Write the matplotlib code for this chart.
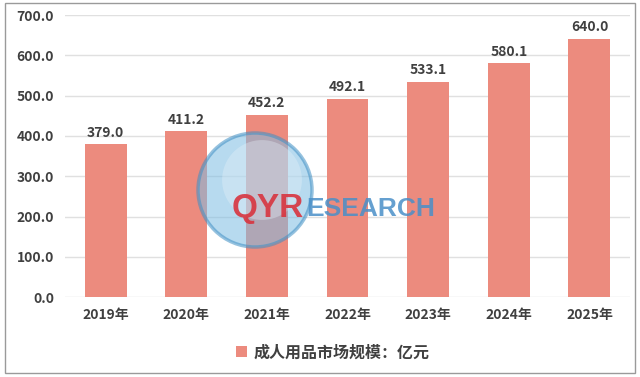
import matplotlib.pyplot as plt
from matplotlib.patches import Ellipse, Rectangle

plt.rcParams['font.family'] = ['Noto Sans CJK SC', 'DejaVu Sans']

years = ["2019年", "2020年", "2021年", "2022年", "2023年", "2024年", "2025年"]
values = [379.0, 411.2, 452.2, 492.1, 533.1, 580.1, 640.0]
series_name = "成人用品市场规模：亿元"
bar_color = "#EC8B7E"

W, H = 640, 377
fig = plt.figure(figsize=(6.4, 3.77), dpi=100)
ax = fig.add_axes([0.102, 0.212, 0.882, 0.748])

x = range(len(years))
bars = ax.bar(x, values, width=0.52, color=bar_color, label=series_name, zorder=2)
for xi, v in zip(x, values):
    ax.text(xi, v + 12, f"{v:.1f}", ha="center", va="bottom",
            fontsize=10, fontweight="bold", color="#404040")

ax.set_xlim(-0.5, len(years) - 0.5)
ax.set_ylim(0, 700)
ax.set_yticks(range(0, 701, 100))
ax.set_yticklabels([f"{t:.1f}" for t in range(0, 701, 100)])
ax.set_xticks(list(x))
ax.set_xticklabels(years)
ax.grid(axis="y", color="#E0E0E0", linewidth=1, zorder=0)
for s in ax.spines.values():
    s.set_visible(False)
ax.tick_params(length=0, labelsize=10, colors="#404040", pad=8)
for lab in ax.get_xticklabels() + ax.get_yticklabels():
    lab.set_fontweight("bold")

fig.legend(handles=[bars], labels=[series_name], loc="center",
           bbox_to_anchor=(0.52, 0.065), frameon=False,
           handlelength=0.7, handleheight=0.7, handletextpad=0.4,
           prop={"weight": "bold", "size": 11.5})
for t in fig.legends[0].get_texts():
    t.set_color("#404040")

# outer frame
fig.add_artist(Rectangle((0.008, 0.01), 0.984, 0.982, transform=fig.transFigure,
                         fill=False, edgecolor="#9A9A9A", linewidth=1))

# watermark (globe + QYResearch text)
r = 57
fig.add_artist(Ellipse((255 / W, 1 - 190 / H), 2 * r / W, 2 * r / H,
                       transform=fig.transFigure, facecolor="#7DBDE3", alpha=0.55,
                       edgecolor="#3F8FC4", linewidth=2.5))
fig.add_artist(Ellipse((262 / W, 1 - 180 / H), 1.4 * r / W, 1.4 * r / H,
                       transform=fig.transFigure, facecolor="#E8F3FA", alpha=0.35,
                       edgecolor="none"))
fig.text(232 / W, 1 - 208 / H, "QYR", color="#D8343F", fontsize=24,
         fontweight="bold", va="center", family="Liberation Sans", alpha=0.9)
fig.text(306 / W, 1 - 209 / H, "ESEARCH", color="#4A8FC8", fontsize=19,
         fontweight="bold", va="center", family="Liberation Sans", alpha=0.85)

fig.savefig("out.png", dpi=100)
